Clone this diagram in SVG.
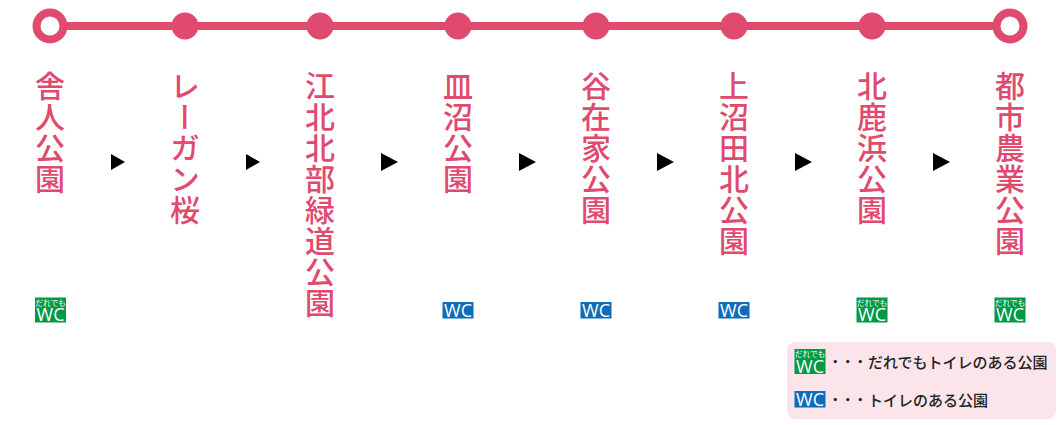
<svg xmlns="http://www.w3.org/2000/svg" width="1060" height="425" viewBox="0 0 1060 425">
<style>
.st{font-family:"Noto Sans CJK JP",sans-serif;font-size:30px;font-weight:500;fill:#df4a6e;writing-mode:vertical-rl;letter-spacing:1px}
.dot{fill:#df4a6e}
.end{fill:#fff;stroke:#df4a6e;stroke-width:8}
.line{stroke:#df4a6e;stroke-width:8;fill:none}
.arrow{fill:#000}
.g{fill:#009944}
.b{fill:#0f6cb8}
.wc{font-family:"Open Sans",sans-serif;fill:#fff;font-size:18px;text-anchor:middle}
.dm{font-family:"Noto Sans CJK JP",sans-serif;fill:#fff;font-size:7.700px;text-anchor:middle}
.lg{font-family:"Noto Sans CJK JP",sans-serif;fill:#222;font-size:15px;font-weight:500}
.ld{font-family:"Noto Sans CJK JP",sans-serif;fill:#222;font-size:12.500px;font-weight:700}
</style>
<defs>
<g id="wcg"><rect x="-15.500" y="0" width="31" height="25" class="g"/><text class="dm" x="0" y="8">だれでも</text><text class="wc" x="0" y="23.500">WC</text></g>
<g id="wcb"><rect x="-15.500" y="0" width="31" height="16.500" class="b"/><text class="wc" x="0" y="15">WC</text></g>
</defs>
<g id="connectors">
<path class="line" d="M50 26H1010"/>
<path class="arrow" d="M111 154L125 162L111 170Z"/>
<path class="arrow" d="M246 154L260 162L246 170Z"/>
<path class="arrow" d="M381 153L398 162L381 171Z"/>
<path class="arrow" d="M519 153L536 162L519 171Z"/>
<path class="arrow" d="M657 153L674 162L657 171Z"/>
<path class="arrow" d="M795 153L812 162L795 171Z"/>
<path class="arrow" d="M933 153L950 162L933 171Z"/>
</g>
<g id="n1"><circle class="end" cx="50" cy="26" r="13.500"/><text class="st" x="50" y="71">舎人公園</text><use href="#wcg" x="50.500" y="297.500"/></g>
<g id="n2"><circle class="dot" cx="185" cy="26" r="13.500"/><text class="st" x="185" y="71">レーガン桜</text></g>
<g id="n3"><circle class="dot" cx="320" cy="26" r="13.500"/><text class="st" x="320" y="71">江北北部緑道公園</text></g>
<g id="n4"><circle class="dot" cx="458" cy="26" r="13.500"/><text class="st" x="458" y="71">皿沼公園</text><use href="#wcb" x="458" y="302"/></g>
<g id="n5"><circle class="dot" cx="596" cy="26" r="13.500"/><text class="st" x="596" y="71">谷在家公園</text><use href="#wcb" x="596" y="302"/></g>
<g id="n6"><circle class="dot" cx="734" cy="26" r="13.500"/><text class="st" x="734" y="71">上沼田北公園</text><use href="#wcb" x="734" y="302"/></g>
<g id="n7"><circle class="dot" cx="872" cy="26" r="13.500"/><text class="st" x="872" y="71">北鹿浜公園</text><use href="#wcg" x="872" y="297.500"/></g>
<g id="n8"><circle class="end" cx="1010" cy="26" r="13.500"/><text class="st" x="1010" y="71">都市農業公園</text><use href="#wcg" x="1010" y="297.500"/></g>
<g id="legend">
<rect x="787" y="342" width="269" height="77" rx="8" fill="#fbe5ea"/>
<use href="#wcg" x="810" y="349"/>
<text class="ld" x="829" y="367">・・・</text>
<text class="lg" x="868" y="368">だれでもトイレのある公園</text>
<use href="#wcb" x="810" y="391"/>
<text class="ld" x="829" y="405">・・・</text>
<text class="lg" x="868" y="406">トイレのある公園</text>
</g>
</svg>
